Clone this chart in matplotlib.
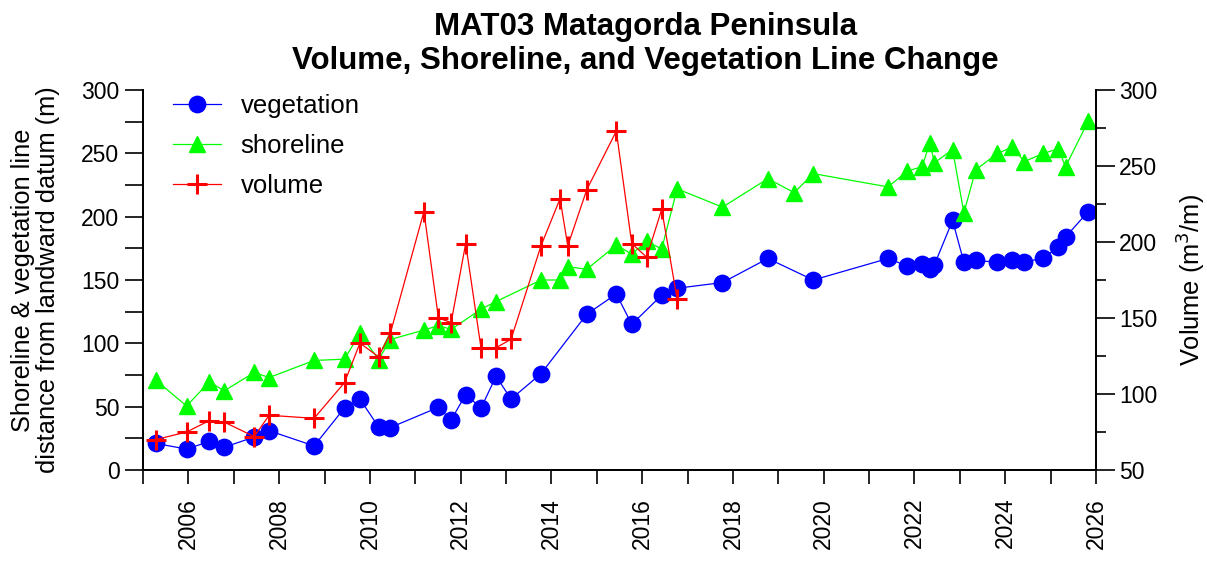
import matplotlib
matplotlib.use("Agg")
import matplotlib.pyplot as plt
from matplotlib.ticker import MultipleLocator

plt.rcParams['font.family'] = ['Liberation Sans', 'DejaVu Sans']

# decimal years of each survey
veg_year = [2005.28, 2005.96, 2006.46, 2006.79, 2007.45, 2007.78, 2008.77, 2009.44, 2009.78,
            2010.19, 2010.45, 2011.51, 2011.79, 2012.11, 2012.45, 2012.78, 2013.11, 2013.77,
            2014.78, 2015.43, 2015.77, 2016.43, 2016.77, 2017.77, 2018.77, 2019.77, 2021.42,
            2021.84, 2022.17, 2022.34, 2022.44, 2022.84, 2023.09, 2023.35, 2023.83, 2024.16,
            2024.42, 2024.84, 2025.17, 2025.33, 2025.83]
veg_dist = [21, 16.5, 22.5, 18, 26, 31, 19, 49, 56,
            34, 33.5, 49.5, 39.5, 59.5, 49, 74, 56, 76,
            123, 139, 115, 138, 143.5, 148, 167, 150, 167,
            161, 163, 159, 162, 197, 164, 165.5, 164, 165.5,
            164, 167.5, 176, 184, 204]

shore_year = [2005.28, 2005.96, 2006.46, 2006.79, 2007.45, 2007.78, 2008.77, 2009.44, 2009.78,
              2010.19, 2010.45, 2011.19, 2011.51, 2011.79, 2012.45, 2012.78, 2013.77, 2014.19,
              2014.36, 2014.78, 2015.43, 2015.77, 2016.10, 2016.43, 2016.77, 2017.77, 2018.77,
              2019.35, 2019.77, 2021.42, 2021.84, 2022.17, 2022.34, 2022.44, 2022.84, 2023.09,
              2023.35, 2023.83, 2024.16, 2024.42, 2024.84, 2025.17, 2025.33, 2025.83]
shore_dist = [71, 50.5, 69.5, 62.5, 77, 73, 86.5, 87.5, 108,
              87, 103, 110.5, 114, 111, 127, 133, 150, 150,
              160.5, 158.5, 177.5, 170.5, 180.5, 174.5, 222, 207.5, 230,
              219, 234, 223.5, 236, 239.5, 258.5, 242.5, 253, 203,
              237, 250, 255, 243.5, 250, 253.5, 239.5, 275.5]

vol_year = [2005.28, 2005.96, 2006.46, 2006.79, 2007.45, 2007.78, 2008.77, 2009.44, 2009.78,
            2010.19, 2010.45, 2011.19, 2011.51, 2011.79, 2012.11, 2012.45, 2012.78, 2013.11,
            2013.77, 2014.19, 2014.36, 2014.78, 2015.43, 2015.77, 2016.10, 2016.43, 2016.77]
vol_val = [70, 75, 82.5, 81.5, 72, 86, 84, 107.5, 133.5,
           124.5, 140, 220, 150, 147, 199, 130, 130.5, 136,
           197.5, 228.5, 197.5, 234.5, 273, 199, 190, 221.5, 162.5]

year_ticks = list(range(2006, 2027, 2))

fig = plt.figure(figsize=(12.07, 5.63), dpi=100)
ax = fig.add_axes([0.1185, 0.1652, 0.7895, 0.6749])
ax2 = ax.twinx()

l1, = ax.plot(veg_year, veg_dist, '-o', color='#0000ff', lw=0.9, ms=11.8, label='vegetation')
l2, = ax.plot(shore_year, shore_dist, '-^', color='#00ff00', lw=0.9, ms=11.5, label='shoreline')
l3, = ax2.plot(vol_year, vol_val, '-+', color='#ff0000', lw=0.9, ms=14.5, mew=2.2, label='volume')

ax.set_xlim(2005, 2026)
ax.set_ylim(0, 300)
ax2.set_ylim(50, 300)

ax.set_xticks(year_ticks)
ax.set_xticklabels([str(y) for y in year_ticks], rotation=90)
ax.xaxis.set_minor_locator(MultipleLocator(1))
ax.yaxis.set_major_locator(MultipleLocator(50))
ax.yaxis.set_minor_locator(MultipleLocator(25))
ax2.yaxis.set_major_locator(MultipleLocator(50))
ax2.yaxis.set_minor_locator(MultipleLocator(25))

for a in (ax, ax2):
    a.spines['top'].set_visible(False)
    for s in a.spines.values():
        s.set_linewidth(1.3)
ax.tick_params(axis='x', which='both', length=10, width=1.2, labelsize=16.5, pad=10)
ax.tick_params(axis='y', which='both', length=13, width=1.2, labelsize=16.5, pad=4)
ax2.tick_params(axis='y', which='major', length=13.5, width=1.2, labelsize=16.5, pad=3)
ax2.tick_params(axis='y', which='minor', length=7, width=1.2)

ax.set_ylabel('Shoreline & vegetation line\ndistance from landward datum (m)', fontsize=18.3,
              linespacing=1.05)
ax.yaxis.set_label_coords(-0.087, 0.5)
ax2.set_ylabel('Volume (m$^3$/m)', fontsize=18.3)
ax2.yaxis.set_label_coords(1.084, 0.5)

fig.text(0.535, 0.979, 'MAT03 Matagorda Peninsula\nVolume, Shoreline, and Vegetation Line Change',
         ha='center', va='top', fontsize=22.5, fontweight='bold', linespacing=1.2)

ax.legend(handles=[l1, l2, l3], loc='upper left', bbox_to_anchor=(0.031, 0.99), frameon=False,
          fontsize=18.5, borderpad=0, borderaxespad=0, handlelength=1.9, handletextpad=0.75,
          labelspacing=0.63)

fig.savefig('out.png', dpi=100)
